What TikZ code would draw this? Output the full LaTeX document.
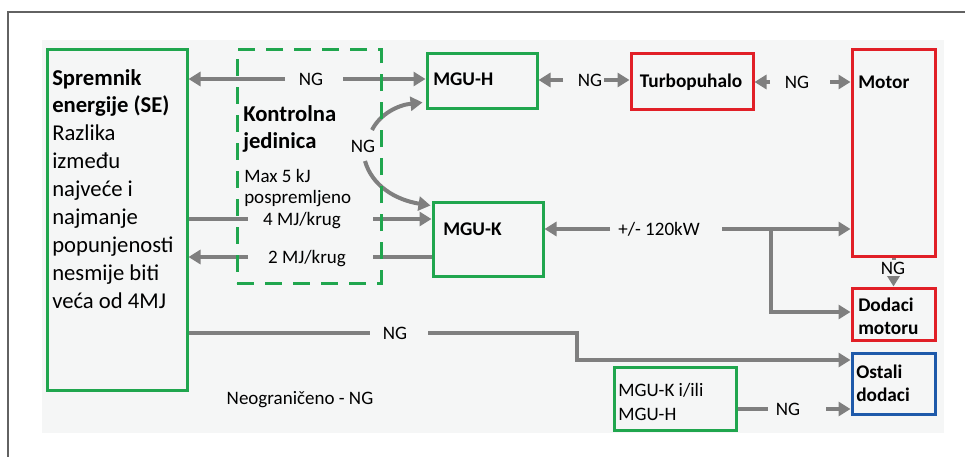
\documentclass[tikz,border=0pt]{standalone}
\usepackage{fontspec}
\setmainfont{Carlito}
\usetikzlibrary{arrows.meta,calc,fit}
\definecolor{bggray}{HTML}{F5F6F6}
\definecolor{arrgray}{HTML}{7F7F7F}
\definecolor{boxgreen}{HTML}{20A64E}
\definecolor{boxred}{HTML}{E11F27}
\definecolor{boxblue}{HTML}{1F5AAA}
\definecolor{framegray}{HTML}{626262}
\begin{document}
\begin{tikzpicture}[x=0.75pt,y=-0.75pt,
  gbox/.style={draw=boxgreen, line width=2.25pt, inner sep=0pt},
  rbox/.style={draw=boxred, line width=2.25pt, inner sep=0pt},
  bbox/.style={draw=boxblue, line width=2.25pt, inner sep=0pt},
  dbox/.style={draw=boxgreen, line width=2.25pt, inner sep=0pt, dash pattern=on 13pt off 8pt},
  arr/.style={draw=arrgray, line width=3pt, -{Triangle[length=9pt,width=10.5pt]}},
  ln/.style={draw=arrgray, line width=3pt},
  lbl/.style={font=\fontsize{14.25}{17}\selectfont, text height=9.2pt, text depth=0pt, inner sep=0pt},
  hdr/.style={font=\bfseries\fontsize{14.5}{17.25}\selectfont, inner sep=0pt, align=left},
  txt/.style={font=\fontsize{14.25}{18}\selectfont, inner sep=0pt, align=left}
]
\useasboundingbox (0,0) rectangle (965,457);
\fill[white] (0,0) rectangle (965,457);
\draw[framegray, line width=1.5pt] (8,457) -- (8,12) -- (965,12);
\fill[bggray] (42,40) rectangle (944,433);

% boxes
\node[gbox, fit={(47,49) (187,390)}] (se) {};
\node[gbox, fit={(427,53) (537,108)}] (mguh) {};
\node[rbox, fit={(631,53) (753,109)}] (turbo) {};
\node[rbox, fit={(852,49) (935,256)}] (motor) {};
\node[gbox, fit={(433,202) (543,276)}] (mguk) {};
\node[rbox, fit={(852,288) (935,340)}] (dodaci) {};
\node[bbox, fit={(852,353) (935,414)}] (ostali) {};
\node[gbox, fit={(614,367) (736,430)}] (mgukh) {};

% box texts (base anchor = baseline of the last line)
\node[anchor=base west, align=left, inner sep=0pt, font=\fontsize{17}{20.9}\selectfont] (setxt) at (52,308)
  {\textbf{Spremnik}\\\textbf{energije (SE)}\\Razlika\\između\\najveće i\\najmanje\\popunjenosti\\nesmije biti\\veća od 4MJ};
\node[anchor=base west, align=left, inner sep=0pt, font=\bfseries\fontsize{17}{20.25}\selectfont] (kt1) at (243,148) {Kontrolna\\jedinica};
\node[anchor=base west, align=left, inner sep=0pt, font=\fontsize{14.25}{15.75}\selectfont] (kt2) at (244,203) {Max 5 kJ\\pospremljeno};
\node[hdr, anchor=base west] (tmguh) at (433,85) {MGU-H};
\node[hdr, anchor=base] (tturbo) at (691,87) {Turbopuhalo};
\node[hdr, anchor=base west] (tmotor) at (858,88) {Motor};
\node[hdr, anchor=base west] (tmguk) at (443,235) {MGU-K};
\node[hdr, anchor=base west] (tdod) at (858,334) {Dodaci\\motoru};
\node[hdr, anchor=base west] (tost) at (856,401) {Ostali\\dodaci};
\node[txt, anchor=base west] (tmgukh) at (618,420) {MGU-K i/ili\\MGU-H};

% connector labels
\node[lbl] (ng1) at (311,79) {NG};
\node[lbl] (ng2) at (590,80) {NG};
\node[lbl] (ng3) at (797,82) {NG};
\node[lbl] (ng4) at (363,146) {NG};
\node[lbl] (m4) at (302,219) {4 MJ/krug};
\node[lbl] (m2) at (307,257) {2 MJ/krug};
\node[lbl] (p120) at (659,229) {+/- 120kW};
\node[lbl] (ng6) at (395,333) {NG};
\node[lbl] (ng7) at (788,409) {NG};
\node[lbl] (neo) at (300,398) {Neograničeno - NG};

% connectors
\draw[arr] ($(ng1)+(-26,0)$) -- (ng1 -| se.east);
\draw[arr] ($(ng1)+(32,0)$) -- (ng1 -| mguh.west);
\draw[arr] ($(ng2)+(-27,0)$) -- (ng2 -| mguh.east);
\draw[arr] ($(ng2)+(14,0)$) -- (ng2 -| turbo.west);
\draw[arr] ($(ng3)+(-27,0)$) -- (ng3 -| turbo.east);
\draw[arr] ($(ng3)+(33,0)$) -- (ng3 -| motor.west);

\draw[arr] ($(ng4)+(9,-16)$) .. controls (380,114) and (398,105) .. ($(mguh.south west)+(-3,-7)$);
\draw[arr] ($(ng4)+(2,15)$) .. controls (372,186) and (396,200) .. ($(mguk.north west)+(-1,5)$);

\draw[ln, line width=3.5pt] (m4 -| se.east) -- ($(m4)+(-54,0)$);
\draw[arr, line width=3.5pt] ($(m4)+(71,0)$) -- (m4 -| mguk.west);
\draw[arr] ($(m2)+(-59,0)$) -- (m2 -| se.east);
\draw[ln] (m2 -| mguk.west) -- ($(m2)+(66,0)$);

\draw[arr] ($(p120)+(-49,0)$) -- (p120 -| mguk.east);
\draw[arr] ($(p120)+(63,0)$) -- (p120 -| motor.west);
\coordinate (br) at (771,229);
\draw[arr] (br) |- ($(dodaci.west)+(0,-2)$);

\draw[arr] (motor.south) -- (dodaci.north);
\node[lbl, fill=bggray, inner xsep=1pt, inner ysep=1.5pt] (ng5) at (893,268) {NG};

\draw[ln] (ng6 -| se.east) -- ($(ng6)+(-25,0)$);
\coordinate (bend) at (577,360);
\draw[arr, line width=3.5pt] ($(ng6)+(33,0)$) -| (bend) -- (bend -| ostali.west);

\draw[ln] (ng7 -| mgukh.east) -- ($(ng7)+(-20,0)$);
\draw[arr] ($(ng7)+(38,0)$) -- (ng7 -| ostali.west);

% dashed control unit box (on top of lines)
\node[dbox, fit={(237,49) (381,283)}] (ku) {};
\end{tikzpicture}
\end{document}
